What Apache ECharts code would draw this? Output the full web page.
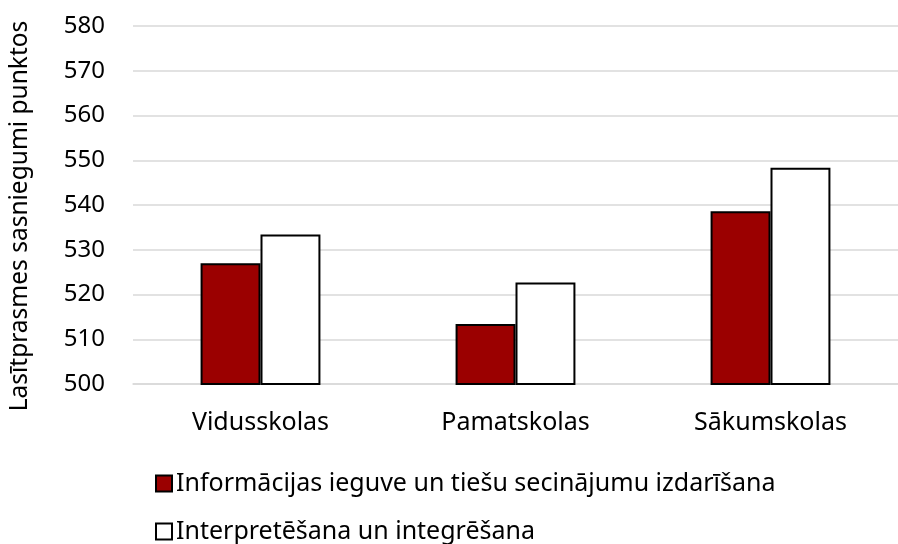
<!DOCTYPE html>
<html lang="lv">
<head>
    <meta charset="UTF-8">
    <title>Lasītprasmes sasniegumi</title>
    <script type="text/javascript" src="https://cdn.jsdelivr.net/npm/echarts@6/dist/echarts.min.js"></script>
    <style>
        html, body { margin: 0; padding: 0; background: #fff; }
    </style>
</head>
<body>
<div id="main" style="width: 898px;height: 544px;"></div>

<script type="text/javascript">

    var categories = ['Vidusskolas', 'Pamatskolas', 'Sākumskolas'];
    var seriesNames = ['Informācijas ieguve un tiešu secinājumu izdarīšana', 'Interpretēšana un integrēšana'];
    var infoValues = [527.0, 513.4, 538.6];
    var interpValues = [533.4, 522.7, 548.3];
    var yTicks = { min: 500, max: 580, interval: 10 };

    var font = '"Noto Sans", "DejaVu Sans", sans-serif';
    var chart = echarts.init(document.getElementById('main'));

    // one legend per row, Excel puts them under each other
    function legendRow(name, top) {
        return {
            left: 150,
            top: top,
            itemWidth: 16,
            itemHeight: 16,
            icon: 'rect',
            textStyle: {
                fontFamily: font,
                fontSize: 25,
                color: '#000',
                padding: [0, 0, 0, -1]
            },
            data: [name]
        };
    }

    var option = {
        animation: false,
        textStyle: { fontFamily: font, color: '#000' },
        grid: {
            left: 128,
            top: 26,
            width: 783,
            height: 358,
            containLabel: false
        },
        legend: [
            legendRow(seriesNames[0], 466),
            legendRow(seriesNames[1], 514)
        ],
        xAxis: {
            type: 'category',
            data: categories,
            axisTick: { show: false },
            axisLine: { lineStyle: { color: '#d9d9d9', width: 1.5 } },
            axisLabel: {
                margin: 26,
                fontSize: 25,
                color: '#000',
                fontFamily: font
            }
        },
        yAxis: {
            type: 'value',
            min: yTicks.min,
            max: yTicks.max,
            interval: yTicks.interval,
            name: 'Lasītprasmes sasniegumi punktos',
            nameLocation: 'middle',
            nameGap: 100,
            nameTextStyle: {
                fontSize: 24.5,
                color: '#000',
                fontFamily: font,
                padding: [0, 22, 0, 0]
            },
            axisLine: { show: false },
            axisTick: { show: false },
            axisLabel: {
                margin: 28,
                fontSize: 24,
                color: '#000',
                fontFamily: font
            },
            splitLine: { lineStyle: { color: '#d9d9d9', width: 1.5 } }
        },
        series: [
            {
                name: seriesNames[0],
                type: 'bar',
                data: infoValues,
                barGap: '0%',
                barCategoryGap: '53%',
                itemStyle: { color: '#9b0000', borderColor: '#000', borderWidth: 2 }
            },
            {
                name: seriesNames[1],
                type: 'bar',
                data: interpValues,
                barGap: '0%',
                barCategoryGap: '53%',
                itemStyle: { color: '#ffffff', borderColor: '#000', borderWidth: 2 }
            }
        ]
    };
    chart.setOption(option);
</script>
</body>
</html>
